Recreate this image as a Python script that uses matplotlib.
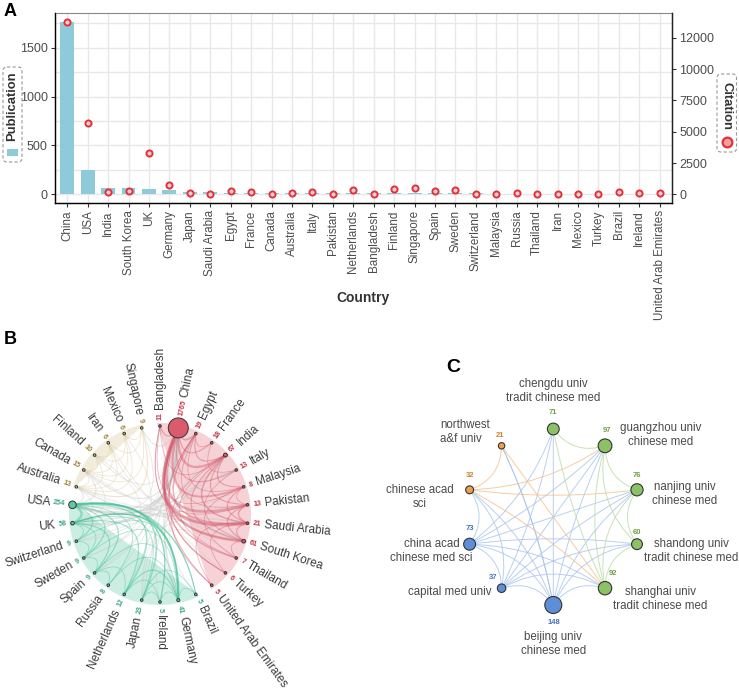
import numpy as np
import matplotlib
matplotlib.use("Agg")
import matplotlib.pyplot as plt
from matplotlib.patches import Circle, Polygon, FancyBboxPatch, Rectangle, PathPatch
from matplotlib.path import Path
from matplotlib.ticker import MultipleLocator

plt.rcParams['font.family'] = ['Liberation Sans', 'DejaVu Sans']

# ---------------- Panel A data ----------------
countries = ["China", "USA", "India", "South Korea", "UK", "Germany", "Japan",
             "Saudi Arabia", "Egypt", "France", "Canada", "Australia", "Italy",
             "Pakistan", "Netherlands", "Bangladesh", "Finland", "Singapore",
             "Spain", "Sweden", "Switzerland", "Malaysia", "Russia", "Thailand",
             "Iran", "Mexico", "Turkey", "Brazil", "Ireland", "United Arab Emirates"]
publications = [1765, 254, 67, 61, 58, 41, 23, 21, 19, 18, 15, 13, 13, 13, 12,
                11, 10, 9, 9, 9, 9, 8, 8, 7, 6, 6, 6, 5, 5, 5]
citations = [13800, 5700, 215, 295, 3290, 715, 110, 15, 240, 190, 35, 135, 160,
             35, 375, 10, 430, 530, 240, 350, 35, 35, 110, 10, 35, 35, 55, 215,
             135, 110]
pub_ticks = [0, 500, 1000, 1500]
cit_ticks = [0, 2500, 5000, 7500, 10000, 12500]
cit_tick_labels = ["0", "2500", "5000", "7500", "10000", "12000"]

# ---------------- Panel B data ----------------
b_red = ["Bangladesh", "China", "Egypt", "France", "India", "Italy", "Malaysia",
         "Pakistan", "Saudi Arabia", "South Korea", "Thailand", "Turkey",
         "United Arab Emirates"]
b_green = ["Brazil", "Germany", "Ireland", "Japan", "Netherlands", "Russia",
           "Spain", "Sweden", "Switzerland", "UK", "USA"]
b_yellow = ["Australia", "Canada", "Finland", "Iran", "Mexico", "Singapore"]
b_edges = [
    ("China", "Saudi Arabia", 8), ("China", "Pakistan", 6), ("China", "South Korea", 6),
    ("China", "India", 5), ("China", "Malaysia", 4), ("China", "Egypt", 3),
    ("China", "Thailand", 3), ("China", "Turkey", 2), ("China", "United Arab Emirates", 2),
    ("China", "Italy", 2), ("China", "France", 2), ("China", "Bangladesh", 2),
    ("India", "Saudi Arabia", 3), ("India", "South Korea", 2), ("India", "Egypt", 2),
    ("India", "Malaysia", 2), ("India", "Bangladesh", 1), ("India", "Pakistan", 2),
    ("India", "United Arab Emirates", 1), ("India", "Thailand", 1),
    ("Saudi Arabia", "Egypt", 3), ("Saudi Arabia", "Pakistan", 3),
    ("Saudi Arabia", "Malaysia", 2), ("Saudi Arabia", "South Korea", 2),
    ("Saudi Arabia", "Bangladesh", 1), ("Saudi Arabia", "Turkey", 1),
    ("Saudi Arabia", "United Arab Emirates", 1), ("Pakistan", "Malaysia", 1),
    ("Pakistan", "South Korea", 2), ("Pakistan", "Egypt", 1), ("Pakistan", "Bangladesh", 1),
    ("South Korea", "Egypt", 1), ("South Korea", "Thailand", 1), ("South Korea", "Italy", 1),
    ("France", "Italy", 1), ("Egypt", "Malaysia", 1), ("Malaysia", "Thailand", 1),
    ("Bangladesh", "Malaysia", 1), ("Egypt", "Turkey", 1), ("France", "Egypt", 1),
    ("USA", "UK", 5), ("USA", "Germany", 5), ("USA", "Netherlands", 3), ("USA", "Japan", 3),
    ("USA", "Spain", 2), ("USA", "Sweden", 2), ("USA", "Switzerland", 2), ("USA", "Russia", 1),
    ("USA", "Brazil", 2), ("USA", "Ireland", 2), ("UK", "Germany", 3), ("UK", "Netherlands", 2),
    ("UK", "Spain", 2), ("UK", "Switzerland", 1), ("UK", "Sweden", 1), ("UK", "Japan", 1),
    ("UK", "Ireland", 1), ("UK", "Brazil", 1), ("Germany", "Netherlands", 2),
    ("Germany", "Japan", 1), ("Germany", "Spain", 1), ("Germany", "Switzerland", 1),
    ("Germany", "Sweden", 1), ("Germany", "Brazil", 1), ("Germany", "Ireland", 1),
    ("Germany", "Russia", 1), ("Netherlands", "Spain", 1), ("Japan", "Ireland", 1),
    ("Japan", "Brazil", 1), ("Spain", "Sweden", 1), ("Russia", "Spain", 1),
    ("Netherlands", "Ireland", 1), ("Switzerland", "Sweden", 1),
    ("Australia", "Canada", 1), ("Australia", "Finland", 1), ("Australia", "Iran", 1),
    ("Australia", "Mexico", 1), ("Australia", "Singapore", 2), ("Canada", "Finland", 1),
    ("Canada", "Singapore", 1), ("Canada", "Iran", 1), ("Finland", "Iran", 1),
    ("Finland", "Mexico", 1), ("Iran", "Singapore", 1), ("Mexico", "Singapore", 1),
    ("Canada", "Mexico", 1),
    ("USA", "China", 6), ("UK", "China", 3), ("Australia", "China", 3), ("Canada", "China", 2),
    ("Germany", "China", 2), ("Japan", "China", 2), ("Singapore", "China", 2),
    ("Sweden", "China", 1), ("Netherlands", "China", 1), ("Spain", "China", 1),
    ("Finland", "China", 1), ("Switzerland", "China", 1), ("USA", "Saudi Arabia", 1),
    ("USA", "India", 2), ("USA", "South Korea", 2), ("USA", "Canada", 2),
    ("USA", "Australia", 2), ("UK", "Australia", 1), ("UK", "India", 1),
    ("UK", "Saudi Arabia", 1), ("UK", "Pakistan", 1), ("Germany", "Egypt", 1),
    ("Germany", "India", 1), ("Japan", "South Korea", 1), ("Australia", "Pakistan", 1),
    ("Canada", "South Korea", 1), ("Iran", "Turkey", 1), ("Mexico", "Spain", 1),
    ("Singapore", "USA", 1), ("Brazil", "Italy", 1), ("Ireland", "Italy", 1),
    ("Japan", "Thailand", 1), ("Russia", "Egypt", 1), ("Finland", "Sweden", 1),
    ("Iran", "Malaysia", 1), ("Bangladesh", "USA", 1), ("Switzerland", "Italy", 1),
    ("UK", "Canada", 1), ("France", "UK", 1),
]

# ---------------- Panel C data ----------------
c_orgs = ["chengdu univ\ntradit chinese med", "guangzhou univ\nchinese med",
          "nanjing univ\nchinese med", "shandong univ\ntradit chinese med",
          "shanghai univ\ntradit chinese med", "beijing univ\nchinese med",
          "capital med univ", "china acad\nchinese med sci",
          "chinese acad\nsci", "northwest\na&f univ"]
c_counts = [71, 97, 76, 60, 92, 148, 37, 73, 32, 21]
c_groups = ["green", "green", "green", "green", "green", "blue", "blue", "blue",
            "orange", "orange"]
c_edges = [
    (5, 0), (5, 1), (5, 2), (5, 3), (5, 4), (5, 6), (5, 7), (5, 8), (5, 9),
    (7, 1), (7, 2), (7, 3), (7, 4), (7, 6), (7, 8), (7, 0),
    (6, 1), (6, 2), (6, 3), (6, 4), (6, 8), (6, 0), (9, 5), (9, 4),
    (0, 1), (0, 4), (1, 2), (1, 4), (1, 3), (2, 3), (2, 4), (3, 4),
    (8, 9), (8, 1), (8, 2), (8, 4),
]

# ====================================================================
fig = plt.figure(figsize=(7.39, 6.89), dpi=100)
W, H = 739, 689

# ---------------- Panel A ----------------
ax = fig.add_axes([55 / W, 1 - 203 / H, 617 / W, 190 / H])
x = np.arange(len(countries))
ax.bar(x, publications, width=0.68, color='#8FCADA', zorder=2)
ax.set_xlim(-0.6, len(countries) - 0.4)
pmax = max(publications)
ax.set_ylim(-0.05 * pmax, 1.05 * pmax)
ax.set_yticks(pub_ticks)
ax.yaxis.set_minor_locator(MultipleLocator(250))
ax.set_axisbelow(True)
ax.grid(which='major', color='#e8e8e8', lw=1.0)
ax.grid(which='minor', axis='y', color='#e8e8e8', lw=1.0)
ax.set_xticks(x)
ax.set_xticklabels(countries, rotation=90, fontsize=8.4, color='#4d4d4d')
ax.tick_params(axis='y', which='minor', length=0)
ax.tick_params(axis='both', which='major', length=3.2, width=0.8, color='#333333',
               labelsize=9, labelcolor='#4d4d4d', pad=2)
ax.tick_params(axis='x', labelsize=8.4)
for s in ['left', 'bottom']:
    ax.spines[s].set_color('#222222')
    ax.spines[s].set_linewidth(1.0)
ax.spines['top'].set_color('#888888')
ax.spines['top'].set_linewidth(0.8)
ax.spines['right'].set_color('#222222')

ax2 = ax.twinx()
cmax = max(citations)
ax2.set_ylim(-0.05 * cmax, 1.05 * cmax)
ax2.plot(x, citations, 'o', ms=4.4, mfc='#f8d0d0', mec='#e5303a', mew=1.4, zorder=5)
ax2.set_yticks(cit_ticks)
ax2.set_yticklabels(cit_tick_labels)
ax2.tick_params(axis='y', length=3.2, width=0.8, color='#333333', labelsize=9,
                labelcolor='#4d4d4d', pad=2)
ax2.spines['right'].set_color('#222222')
ax2.spines['right'].set_linewidth(1.0)
ax2.spines['top'].set_visible(False)

# ---------------- overlay (pixel coordinates) ----------------
ov = fig.add_axes([0, 0, 1, 1])
ov.set_xlim(0, W)
ov.set_ylim(H, 0)
ov.axis('off')
ov.patch.set_alpha(0)

ov.text(363, 298, "Country", ha='center', va='center', fontsize=10,
        fontweight='bold', color='#333333')

# legends
ov.add_patch(FancyBboxPatch((3, 67), 19, 95, boxstyle='round,pad=0,rounding_size=4',
                            ls=(0, (3, 2)), ec='#9a9a9a', fc='none', lw=0.8))
ov.text(12.5, 106, "Publication", rotation=90, ha='center', va='center',
        fontsize=9.4, fontweight='bold', color='#333333')
ov.add_patch(Rectangle((6.8, 149), 11.5, 6.5, fc='#8FCADA', ec='none'))
ov.add_patch(FancyBboxPatch((717, 74), 19.5, 78, boxstyle='round,pad=0,rounding_size=4',
                            ls=(0, (3, 2)), ec='#9a9a9a', fc='none', lw=0.8))
ov.text(727, 106, "Citation", rotation=270, ha='center', va='center',
        fontsize=9.4, fontweight='bold', color='#333333')
ov.plot([727], [142], 'o', ms=7, mfc='#f0a0a0', mec='#e5303a', mew=1.6)

# panel letters
ov.text(10, 11, "A", ha='center', va='center', fontsize=13, fontweight='bold', color='black')
ov.text(10, 340, "B", ha='center', va='center', fontsize=13, fontweight='bold', color='black')
ov.text(453, 367, "C", ha='center', va='center', fontsize=14, fontweight='bold', color='black')


def bez(p1, p2, c, k, m):
    p1 = np.asarray(p1, float); p2 = np.asarray(p2, float); c = np.asarray(c, float)
    mid = (p1 + p2) / 2
    chord = np.linalg.norm(p2 - p1)
    v = c - mid
    d = np.linalg.norm(v)
    if d < 1e-6:
        ctrl = mid
    else:
        ctrl = mid + v / d * min(chord * k, d * m)
    return Path([tuple(p1), tuple(ctrl), tuple(p2)], [Path.MOVETO, Path.CURVE3, Path.CURVE3])


# ---------------- Panel B ----------------
cxB, cyB, RB = 160.0, 514.0, 88.0
orderB = b_red + b_green + b_yellow
grpB = {}
for nm in b_red:
    grpB[nm] = 'red'
for nm in b_green:
    grpB[nm] = 'green'
for nm in b_yellow:
    grpB[nm] = 'yellow'
pubd = dict(zip(countries, publications))
stepB = 360.0 / len(orderB)
thB = {nm: i * stepB for i, nm in enumerate(orderB)}

colB = {
    'red': dict(node='#D95B6C', text='#C73449', hull='#F5CBD1', edge='#D65C6E'),
    'green': dict(node='#5CC9A0', text='#3BAA80', hull='#C3ECDD', edge='#3FC193'),
    'yellow': dict(node='#CBBB8A', text='#9F8636', hull='#EFE9D5', edge='#D9CA94'),
}


def polar(th, r, cx, cy):
    t = np.radians(th)
    return cx + r * np.sin(t), cy - r * np.cos(t)


for g, members in [('red', b_red), ('green', b_green), ('yellow', b_yellow)]:
    t0 = thB[members[0]] - 2
    t1 = thB[members[-1]] + 2
    ts = np.linspace(t0, t1, 60)
    pts = [polar(t, RB + 3, cxB, cyB) for t in ts]
    ov.add_patch(Polygon(pts, closed=True, fc=colB[g]['hull'], ec='none', alpha=0.85, zorder=1))

for a, b, w in b_edges:
    p1 = polar(thB[a], RB, cxB, cyB)
    p2 = polar(thB[b], RB, cxB, cyB)
    path = bez(p1, p2, (cxB, cyB), 1.0, 1.6)
    if grpB[a] == grpB[b]:
        col = colB[grpB[a]]['edge']; al = 0.45; z = 3
    else:
        col = '#c4c4c4'; al = 0.4; z = 2
    ov.add_patch(PathPatch(path, fc='none', ec=col, lw=0.3 + 0.28 * w, alpha=al, zorder=z))

for nm in orderB:
    th = thB[nm]
    p = pubd[nm]
    g = grpB[nm]
    rn = max(10.0 * np.sqrt(p / pmax), 1.3)
    xy = polar(th, RB, cxB, cyB)
    ov.add_patch(Circle(xy, rn, fc=colB[g]['node'], ec='#333333', lw=0.7, zorder=6))
    r_num = RB + 4.5 + rn * 0.8
    r_name = r_num + len(str(p)) * 3.7 + 4
    if th <= 180:
        rot = 90 - th; ha = 'left'
    else:
        rot = 270 - th; ha = 'right'
    ov.text(*polar(th, r_num, cxB, cyB), str(p), rotation=rot, ha=ha, va='center',
            rotation_mode='anchor', fontsize=5.2, fontweight='bold', color=colB[g]['text'])
    ov.text(*polar(th, r_name, cxB, cyB), nm, rotation=rot, ha=ha, va='center',
            rotation_mode='anchor', fontsize=8.5, color='#3a3a3a')

# ---------------- Panel C ----------------
cxC, cyC, RC = 553.3, 517.0, 88.0
colC = {
    'green': dict(node='#8CC266', text='#6E9E45', edge='#B9DBA2'),
    'blue': dict(node='#5E8FD6', text='#4472B8', edge='#A8C3EE'),
    'orange': dict(node='#EDA04F', text='#D2812E', edge='#F2C08C'),
}
prio = {'blue': 0, 'orange': 1, 'green': 2}
stepC = 360.0 / len(c_orgs)
posC = [polar(i * stepC, RC, cxC, cyC) for i in range(len(c_orgs))]
cmaxC = max(c_counts)

for a, b in c_edges:
    ga, gb = c_groups[a], c_groups[b]
    g = ga if prio[ga] <= prio[gb] else gb
    path = bez(posC[a], posC[b], (cxC, cyC), 0.35, 0.4)
    ov.add_patch(PathPatch(path, fc='none', ec=colC[g]['edge'], lw=0.7, alpha=0.8, zorder=2))

# label layout: (number dx, number dy, name dx, name dy, name ha)
c_label_layout = [
    (0, -16, 0, -38, 'center'),
    (2, -15, 56, -11, 'center'),
    (0, -14, 48, 4, 'center'),
    (0, -12, 54, 7, 'center'),
    (8, -15, 55, 10.5, 'center'),
    (1, 18, 0, 39, 'center'),
    (-8, -11, -10, 4, 'right'),
    (0, -16, -38, 6.5, 'center'),
    (0, -14, -50, 7, 'center'),
    (-2, -10, -61.5, -14, 'left'),
]
for i, nm in enumerate(c_orgs):
    g = c_groups[i]
    rn = 8.5 * np.sqrt(c_counts[i] / cmaxC)
    xy = posC[i]
    ov.add_patch(Circle(xy, rn, fc=colC[g]['node'], ec='#333333', lw=0.8, zorder=6))
    ndx, ndy, tdx, tdy, ha = c_label_layout[i]
    ov.text(xy[0] + ndx, xy[1] + ndy, str(c_counts[i]), ha='center', va='center',
            fontsize=5.5, fontweight='bold', color=colC[g]['text'], zorder=7)
    ov.text(xy[0] + tdx, xy[1] + tdy, nm, ha=ha, va='center', multialignment='center' if ha != 'left' else 'left',
            fontsize=8.3, color='#4a4a4a', linespacing=1.25, zorder=7)

fig.savefig("out.png", dpi=100)
